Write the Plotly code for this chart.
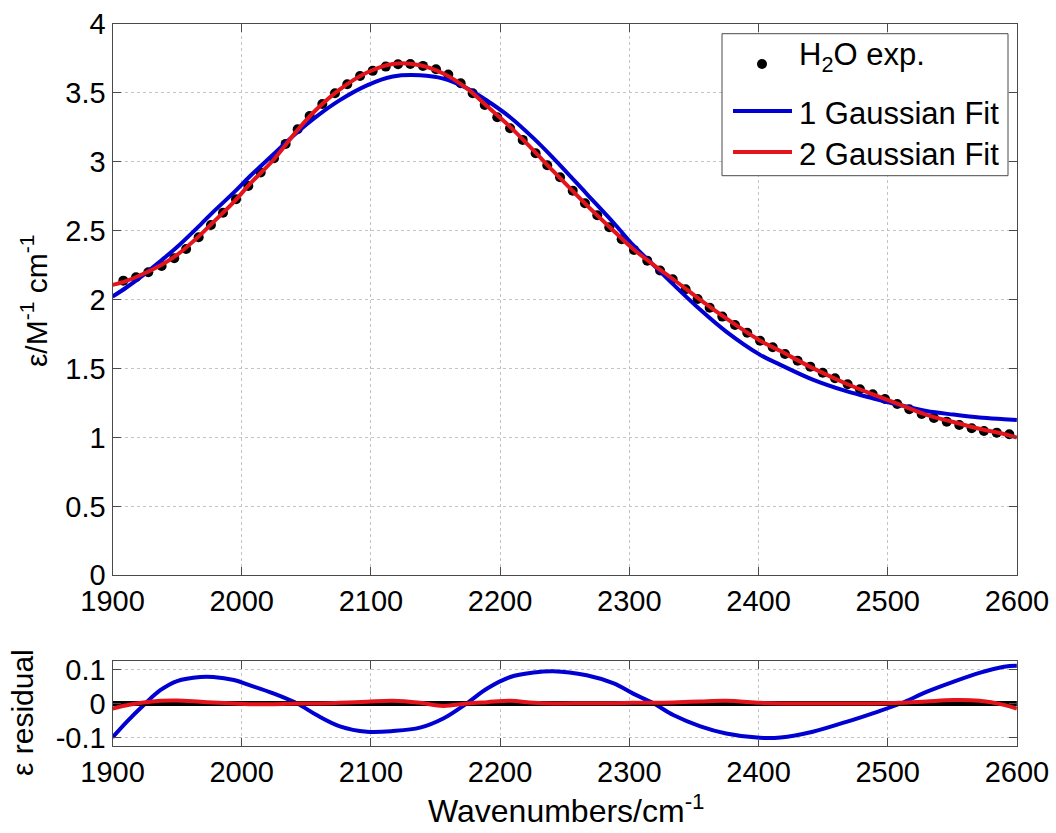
import plotly.graph_objects as go

# ---------------- data ----------------
exp_wn = [1908.4, 1918.2, 1927.7, 1938.0, 1947.8, 1957.0, 1966.7, 1976.2, 1985.5, 1995.6,
          2005.1, 2014.7, 2025.0, 2034.0, 2043.3, 2052.6, 2062.4, 2072.2, 2081.7, 2091.6,
          2101.4, 2111.5, 2121.0, 2130.5, 2140.3, 2150.4, 2159.9, 2169.5, 2178.8, 2188.1,
          2197.8, 2207.7, 2217.5, 2227.5, 2236.5, 2246.4, 2256.2, 2265.7, 2275.2, 2284.5,
          2294.1, 2303.6, 2313.9, 2323.8, 2333.6, 2343.6, 2352.9, 2362.2, 2372.0, 2381.8,
          2391.3, 2401.2, 2411.0, 2420.5, 2430.3, 2440.1, 2449.7, 2459.2, 2469.0, 2478.5,
          2488.4, 2497.9, 2507.4, 2516.7, 2526.3, 2535.8, 2545.7, 2555.4, 2565.0, 2574.5,
          2584.4, 2594.1]
exp_eps = [2.138, 2.162, 2.199, 2.245, 2.300, 2.368, 2.453, 2.542, 2.631, 2.729,
           2.825, 2.922, 3.026, 3.130, 3.236, 3.333, 3.420, 3.498, 3.563, 3.623,
           3.660, 3.691, 3.708, 3.710, 3.696, 3.672, 3.633, 3.570, 3.498, 3.413,
           3.324, 3.244, 3.159, 3.062, 2.975, 2.888, 2.791, 2.700, 2.612, 2.525,
           2.438, 2.361, 2.283, 2.211, 2.148, 2.075, 2.005, 1.942, 1.877, 1.816,
           1.760, 1.702, 1.655, 1.606, 1.557, 1.514, 1.470, 1.430, 1.386, 1.350,
           1.313, 1.279, 1.243, 1.205, 1.171, 1.141, 1.115, 1.091, 1.067, 1.047,
           1.035, 1.023]

fit_wn = [1900, 1911, 1924, 1937, 1950, 1968, 1978, 1994, 2006, 2025,
          2043, 2058, 2076, 2097, 2117, 2138, 2156, 2174, 2190, 2208,
          2226, 2241, 2267, 2288, 2303, 2319, 2334, 2355, 2375, 2401,
          2417, 2442, 2468, 2489, 2510, 2530, 2551, 2571, 2590, 2600]
fit1_eps = [2.022, 2.090, 2.180, 2.279, 2.382, 2.543, 2.637, 2.778, 2.892, 3.058,
            3.215, 3.330, 3.448, 3.555, 3.619, 3.628, 3.604, 3.535, 3.443, 3.322,
            3.170, 3.029, 2.768, 2.556, 2.395, 2.249, 2.111, 1.926, 1.768, 1.601,
            1.527, 1.420, 1.336, 1.283, 1.234, 1.192, 1.166, 1.145, 1.133, 1.127]
fit2_eps = [2.107, 2.137, 2.188, 2.248, 2.325, 2.470, 2.562, 2.709, 2.836, 3.019,
            3.228, 3.381, 3.526, 3.648, 3.710, 3.701, 3.641, 3.535, 3.403, 3.252,
            3.081, 2.934, 2.686, 2.498, 2.368, 2.251, 2.148, 1.999, 1.864, 1.704,
            1.627, 1.503, 1.390, 1.311, 1.236, 1.164, 1.112, 1.063, 1.025, 1.000]
res1 = [-0.100, -0.054, -0.005, 0.039, 0.066, 0.078, 0.078, 0.069, 0.054, 0.029,
        0.000, -0.034, -0.067, -0.083, -0.081, -0.071, -0.044, 0.000, 0.044, 0.078,
        0.091, 0.095, 0.083, 0.059, 0.029, 0.000, -0.034, -0.067, -0.088, -0.101,
        -0.100, -0.083, -0.054, -0.028, 0.000, 0.034, 0.064, 0.090, 0.108, 0.111]
res2 = [-0.015, -0.005, 0.003, 0.008, 0.009, 0.005, 0.003, 0.000, -0.002, -0.002,
        0.000, 0.000, 0.002, 0.005, 0.008, 0.002, -0.007, 0.000, 0.004, 0.008,
        0.002, 0.000, 0.001, 0.001, 0.002, 0.002, 0.003, 0.006, 0.008, 0.002,
        0.000, 0.000, 0.000, 0.000, 0.002, 0.006, 0.010, 0.008, -0.004, -0.015]
zero_wn = [1900, 2600]
zero_res = [0, 0]

x_ticks = [1900, 2000, 2100, 2200, 2300, 2400, 2500, 2600]
x_ticktext = ["1900", "2000", "2100", "2200", "2300", "2400", "2500", "2600"]
y_ticks = [0, 0.5, 1, 1.5, 2, 2.5, 3, 3.5, 4]
y_ticktext = ["0", "0.5", "1", "1.5", "2", "2.5", "3", "3.5", "4"]
r_ticks = [-0.1, 0, 0.1]
r_ticktext = ["-0.1", "0", "0.1"]

legend_labels = ["H<sub>2</sub>O exp.", "1 Gaussian Fit", "2 Gaussian Fit"]

# ---------------- styling ----------------
W, H = 1056, 833
BLUE = "#0000d2"
RED = "#e3141b"
AX = "#4a4a4a"
GRID = "#c4c4c4"
FONT = "Liberation Sans"
TICKSIZE = 29


def px(x):
    return x / W


def py(y):
    return 1 - y / H


fig = go.Figure()

# top panel
fig.add_trace(go.Scatter(x=exp_wn, y=exp_eps, mode="markers",
                         marker=dict(color="black", size=10),
                         xaxis="x", yaxis="y", showlegend=False))
fig.add_trace(go.Scatter(x=fit_wn, y=fit1_eps, mode="lines",
                         line=dict(color=BLUE, width=4, shape="spline"),
                         xaxis="x", yaxis="y", showlegend=False))
fig.add_trace(go.Scatter(x=fit_wn, y=fit2_eps, mode="lines",
                         line=dict(color=RED, width=4, shape="spline"),
                         xaxis="x", yaxis="y", showlegend=False))

# residual panel
fig.add_trace(go.Scatter(x=fit_wn, y=res1, mode="lines",
                         line=dict(color=BLUE, width=4, shape="spline"),
                         xaxis="x2", yaxis="y2", showlegend=False))
fig.add_trace(go.Scatter(x=zero_wn, y=zero_res, mode="lines",
                         line=dict(color="black", width=5),
                         xaxis="x2", yaxis="y2", showlegend=False))
fig.add_trace(go.Scatter(x=fit_wn, y=res2, mode="lines",
                         line=dict(color=RED, width=4, shape="spline"),
                         xaxis="x2", yaxis="y2", showlegend=False))

xdom = [px(112.5), px(1016.9)]
common_axis = dict(showline=True, linecolor=AX, linewidth=1, mirror="allticks",
                   ticks="inside", ticklen=8, tickcolor=AX, tickwidth=1,
                   showgrid=True, gridcolor=GRID, griddash="dot", gridwidth=1,
                   zeroline=False, automargin=False,
                   tickfont=dict(family=FONT, size=TICKSIZE, color="black"))

fig.update_layout(
    template="none",
    width=W, height=H, autosize=False,
    margin=dict(l=0, r=0, t=0, b=0, pad=0),
    paper_bgcolor="white", plot_bgcolor="white",
    showlegend=False,
    xaxis=dict(domain=xdom, anchor="y", range=[1900, 2600],
               tickvals=x_ticks, ticktext=x_ticktext, **common_axis),
    yaxis=dict(domain=[py(575.3), py(24)], anchor="x", range=[0, 4],
               tickvals=y_ticks, ticktext=y_ticktext, **common_axis),
    xaxis2=dict(domain=xdom, anchor="y2", range=[1900, 2600],
                tickvals=x_ticks, ticktext=x_ticktext, **common_axis),
    yaxis2=dict(domain=[py(746), py(661)], anchor="x2", range=[-0.125, 0.125],
                tickvals=r_ticks, ticktext=r_ticktext, **common_axis),
)

# axis titles
fig.add_annotation(x=px(34), y=py(301), xref="paper", yref="paper",
                   xanchor="center", yanchor="middle",
                   text="\u03b5/M<sup>-1</sup> cm<sup>-1</sup>", textangle=-90,
                   showarrow=False, font=dict(family=FONT, size=30, color="black"))
fig.add_annotation(x=px(22), y=py(713), xref="paper", yref="paper",
                   xanchor="center", yanchor="middle",
                   text="\u03b5 residual", textangle=-90,
                   showarrow=False, font=dict(family=FONT, size=30, color="black"))
fig.add_annotation(x=px(566), y=py(809), xref="paper", yref="paper",
                   xanchor="center", yanchor="middle",
                   text="Wavenumbers/cm<sup>-1</sup>",
                   showarrow=False, font=dict(family=FONT, size=32, color="black"))

# manual legend
fig.add_shape(type="rect", xref="paper", yref="paper",
              x0=px(722), x1=px(1008), y0=py(175.7), y1=py(33.7),
              line=dict(color=AX, width=1), fillcolor="white", layer="above")
fig.add_shape(type="circle", xref="paper", yref="paper",
              x0=px(757), x1=px(767), y0=py(69), y1=py(59),
              line=dict(color="black", width=0), fillcolor="black", layer="above")
fig.add_shape(type="line", xref="paper", yref="paper",
              x0=px(733), x1=px(792), y0=py(111), y1=py(111),
              line=dict(color=BLUE, width=4), layer="above")
fig.add_shape(type="line", xref="paper", yref="paper",
              x0=px(733), x1=px(792), y0=py(152), y1=py(152),
              line=dict(color=RED, width=4), layer="above")
for lbl, yc in zip(legend_labels, [57, 113, 154]):
    fig.add_annotation(x=px(797), y=py(yc), xref="paper", yref="paper",
                       text=lbl, xanchor="left", yanchor="middle",
                       showarrow=False, font=dict(family=FONT, size=31, color="black"))

fig.write_html("out.html")
